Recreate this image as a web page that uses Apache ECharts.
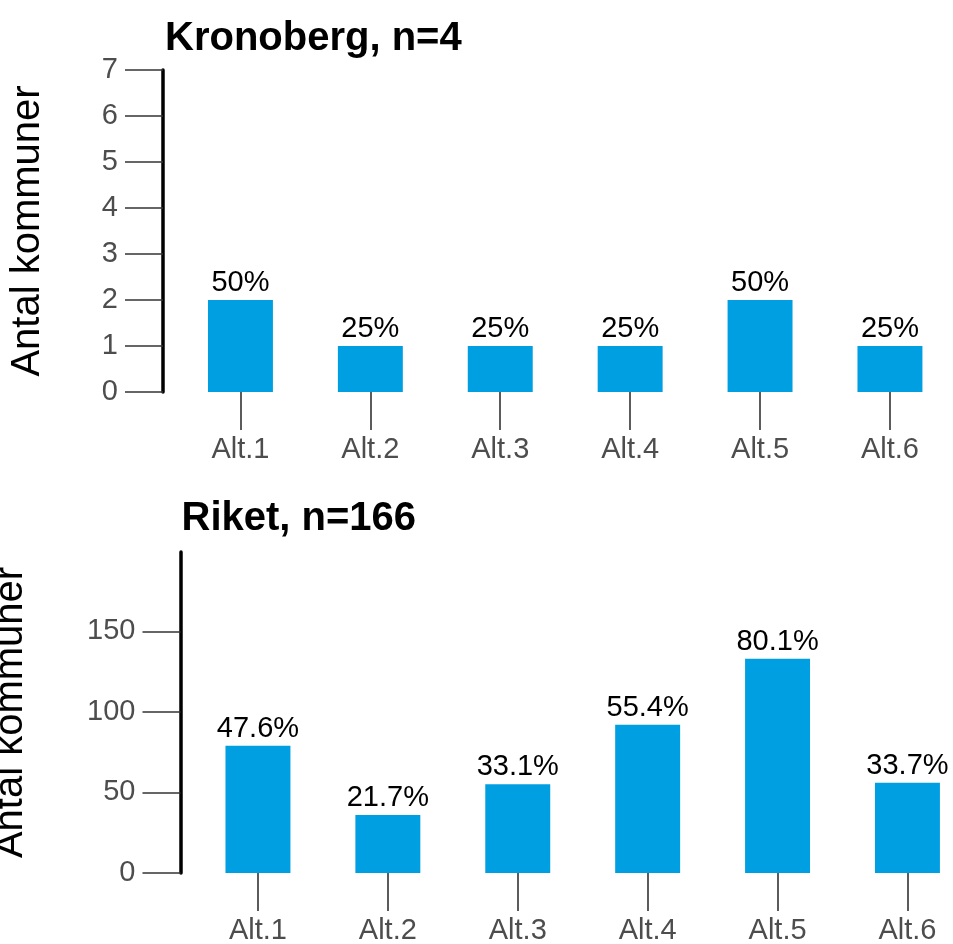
<!DOCTYPE html>
<html>
<head>
<meta charset="utf-8">
<script src="https://cdn.jsdelivr.net/npm/echarts@6/dist/echarts.min.js"></script>
<style>
  html, body { margin: 0; padding: 0; background: #ffffff; }
  #chart { width: 953px; height: 944px; }
</style>
</head>
<body>
<div id="chart"></div>
<script>
// ---- Data ----
const categories = ['Alt.1', 'Alt.2', 'Alt.3', 'Alt.4', 'Alt.5', 'Alt.6'];

const kronobergTitle = 'Kronoberg, n=4';
const kronobergCounts = [2, 1, 1, 1, 2, 1];
const kronobergPct = ['50%', '25%', '25%', '25%', '50%', '25%'];
const kronobergTicks = [0, 1, 2, 3, 4, 5, 6, 7];
const kronobergMax = 7;

const riketTitle = 'Riket, n=166';
const riketCounts = [79, 36, 55, 92, 133, 56];
const riketPct = ['47.6%', '21.7%', '33.1%', '55.4%', '80.1%', '33.7%'];
const riketTicks = [0, 50, 100, 150];
const riketMax = 199.2;

const yName = 'Antal kommuner';

// ---- Styles ----
const FONT = 'Liberation Sans, Arial, Helvetica, sans-serif';
const BAR_COLOR = '#009fe1';
const GREY = '#4d4d4d';

function xAxisCfg(gridIndex) {
  return {
    type: 'category',
    gridIndex: gridIndex,
    data: categories,
    axisLine: { show: false },
    axisTick: { show: true, alignWithLabel: true, length: 38, lineStyle: { color: '#333333', width: 1.6 } },
    axisLabel: { margin: 43.5, fontSize: 29, color: GREY, fontFamily: FONT }
  };
}

function yAxisCfg(gridIndex, max, ticks, nameGap) {
  return {
    type: 'value',
    gridIndex: gridIndex,
    min: 0,
    max: max,
    offset: 12.5,
    name: yName,
    nameLocation: 'middle',
    nameGap: nameGap,
    nameTextStyle: { fontSize: 40, color: '#000000', fontFamily: FONT },
    splitLine: { show: false },
    axisLine: { show: true, lineStyle: { color: '#000000', width: 3.5 } },
    axisTick: { show: true, length: 38, customValues: ticks, lineStyle: { color: '#333333', width: 1.6 } },
    axisLabel: { margin: 45, fontSize: 29, color: GREY, fontFamily: FONT, customValues: ticks }
  };
}

function barSeries(idx, counts, pcts) {
  return {
    type: 'bar',
    xAxisIndex: idx,
    yAxisIndex: idx,
    data: counts,
    barWidth: '50%',
    itemStyle: { color: BAR_COLOR },
    label: {
      show: true,
      position: 'top',
      distance: 2.5,
      fontSize: 29,
      color: '#000000',
      fontFamily: FONT,
      formatter: function (p) { return pcts[p.dataIndex]; }
    },
    animation: false
  };
}

const chart = echarts.init(document.getElementById('chart'), null, { renderer: 'canvas' });
chart.setOption({
  animation: false,
  backgroundColor: '#ffffff',
  title: [
    { text: kronobergTitle, left: 160, top: 14, textStyle: { fontSize: 40, fontWeight: 'bold', color: '#000000', fontFamily: FONT } },
    { text: riketTitle, left: 176.5, top: 494, textStyle: { fontSize: 40, fontWeight: 'bold', color: '#000000', fontFamily: FONT } }
  ],
  grid: [
    { left: 175.5, top: 70, width: 779.4, height: 322, outerBoundsMode: 'none', containLabel: false },
    { left: 193, top: 552, width: 779.4, height: 321, outerBoundsMode: 'none', containLabel: false }
  ],
  xAxis: [xAxisCfg(0), xAxisCfg(1)],
  yAxis: [
    yAxisCfg(0, kronobergMax, kronobergTicks, 115),
    yAxisCfg(1, riketMax, riketTicks, 149.5)
  ],
  series: [
    barSeries(0, kronobergCounts, kronobergPct),
    barSeries(1, riketCounts, riketPct)
  ]
});
</script>
</body>
</html>
